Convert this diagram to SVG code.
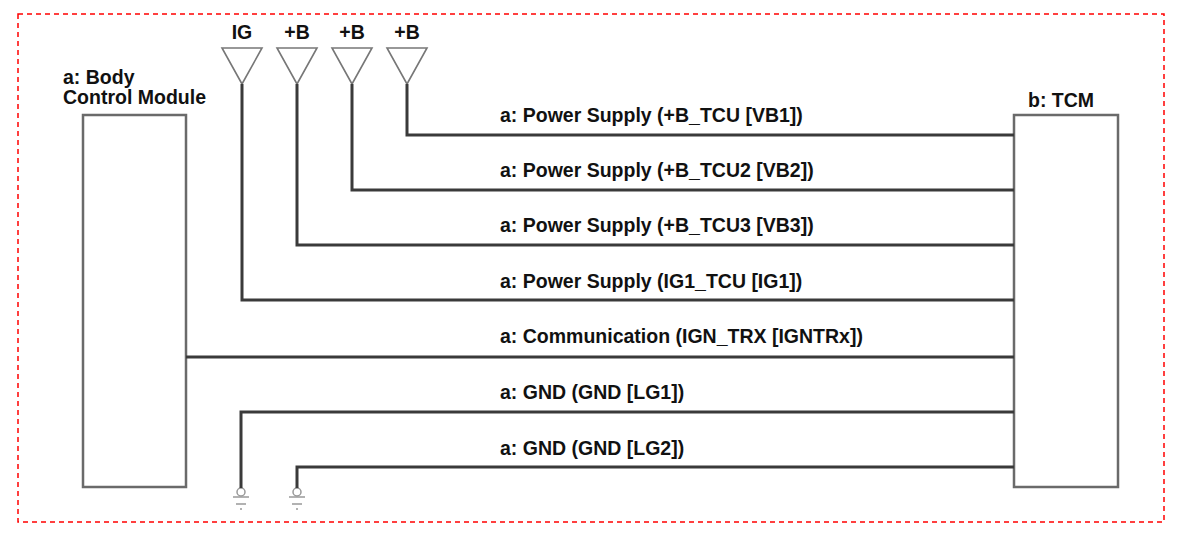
<svg xmlns="http://www.w3.org/2000/svg" width="1200" height="552" viewBox="0 0 1200 552">
<style>
.t{font-family:"Liberation Sans",Arial,sans-serif;font-weight:bold;font-size:19.5px;fill:#111}
.box{fill:#fff;stroke:#6a6a6a;stroke-width:2.5}
.w{fill:none;stroke:#3a3a3a;stroke-width:3}
.ant{fill:none;stroke:#777;stroke-width:1.6;stroke-linejoin:miter}
.gnd{fill:none;stroke:#999;stroke-width:1.5}
</style>
<defs>
<g id="antenna"><polygon class="ant" points="-20,48 20,48 0,84"/></g>
<g id="ground"><circle class="gnd" cx="0" cy="492" r="4"/><line class="gnd" x1="-8" y1="497" x2="8" y2="497" stroke-width="2"/><line class="gnd" x1="-5" y1="504" x2="5" y2="504"/><line class="gnd" x1="-1" y1="509" x2="1" y2="509"/></g>
</defs>
<rect width="1200" height="552" fill="#fff"/>
<rect x="18" y="14" width="1146" height="508" fill="none" stroke="#f00" stroke-width="1.5" stroke-dasharray="5,4"/>
<g id="bcm"><rect class="box" x="83" y="115" width="103" height="372"/><text class="t" x="63" y="83.5">a: Body</text><text class="t" x="63" y="104">Control Module</text></g>
<g id="tcm"><rect class="box" x="1014" y="115" width="104" height="372"/><text class="t" x="1061" y="107" text-anchor="middle">b: TCM</text></g>
<g id="src-ig"><use href="#antenna" x="242"/><text class="t" x="242" y="39" text-anchor="middle">IG</text></g>
<g id="src-b3"><use href="#antenna" x="297"/><text class="t" x="297" y="39" text-anchor="middle">+B</text></g>
<g id="src-b2"><use href="#antenna" x="352"/><text class="t" x="352" y="39" text-anchor="middle">+B</text></g>
<g id="src-b1"><use href="#antenna" x="407"/><text class="t" x="407" y="39" text-anchor="middle">+B</text></g>
<g id="gnd1"><use href="#ground" x="241"/></g>
<g id="gnd2"><use href="#ground" x="297"/></g>
<g id="connectors">
<polyline class="w" points="407,84 407,135 1014,135"/>
<polyline class="w" points="352,84 352,190 1014,190"/>
<polyline class="w" points="297,84 297,245 1014,245"/>
<polyline class="w" points="242,84 242,300 1014,300"/>
<polyline class="w" points="186,357 1014,357"/>
<polyline class="w" points="241,488 241,412 1014,412"/>
<polyline class="w" points="297,488 297,467 1014,467"/>
<text class="t" x="500" y="122">a: Power Supply (+B_TCU [VB1])</text>
<text class="t" x="500" y="177">a: Power Supply (+B_TCU2 [VB2])</text>
<text class="t" x="500" y="232">a: Power Supply (+B_TCU3 [VB3])</text>
<text class="t" x="500" y="288">a: Power Supply (IG1_TCU [IG1])</text>
<text class="t" x="500" y="343">a: Communication (IGN_TRX [IGNTRx])</text>
<text class="t" x="500" y="399">a: GND (GND [LG1])</text>
<text class="t" x="500" y="455">a: GND (GND [LG2])</text>
</g>
</svg>
